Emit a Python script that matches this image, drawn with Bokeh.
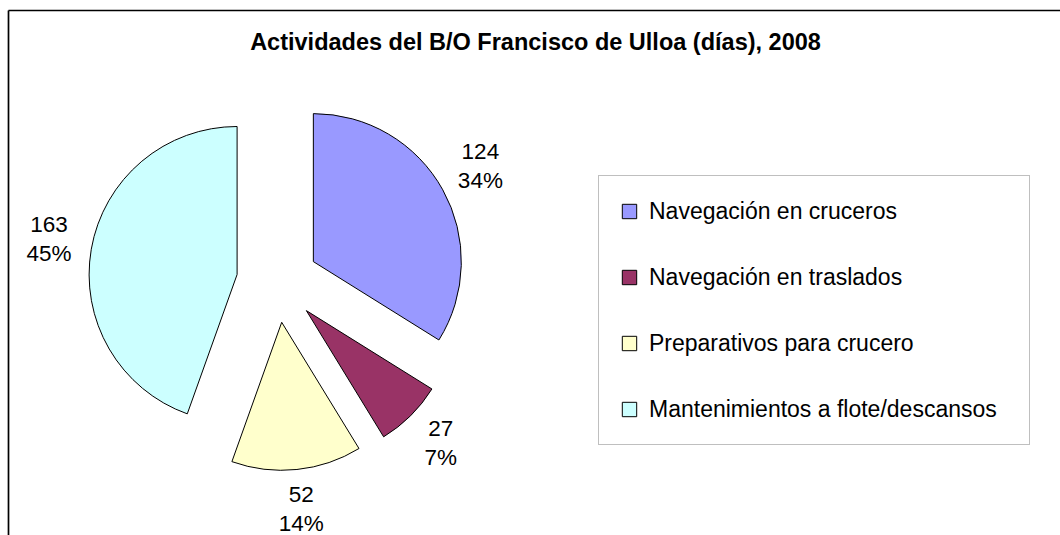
import numpy as np
from bokeh.plotting import figure
from bokeh.models import Range1d, ColumnDataSource, Legend, LegendItem
from bokeh.embed import file_html
from bokeh.resources import INLINE
from bokeh.core.properties import value

# ---- data ----
categories = ["Navegación en cruceros", "Navegación en traslados",
              "Preparativos para crucero", "Mantenimientos a flote/descansos"]
days = [124, 27, 52, 163]
colors = ["#9999FF", "#993366", "#FFFFCC", "#CCFFFF"]
title_text = "Actividades del B/O Francisco de Ulloa (días), 2008"

FONT = "Liberation Sans"
W, H = 1060, 535

p = figure(width=W, height=H, x_range=Range1d(0, W), y_range=Range1d(-H, 0),
           output_backend="svg", toolbar_location=None, min_border=0,
           x_axis_location=None, y_axis_location=None)
p.grid.visible = False
p.outline_line_color = None
p.background_fill_color = "white"
p.border_fill_color = "white"

# chart border (runs past the right and bottom of the page)
p.segment(x0=[8, 8], y0=[-10, -10], x1=[W, 8], y1=[-10, -H],
          line_color="black", line_width=1.7)

# ---- pie geometry ----
total = float(sum(days))
frac = np.array(days) / total
cum = np.concatenate([[0.0], np.cumsum(frac)])
start = np.pi / 2 - 2 * np.pi * cum[:-1]
end = np.pi / 2 - 2 * np.pi * cum[1:]
mid = (start + end) / 2

cx, cy = 277.0, -281.0
explode = 41.0
R = 148.0
xs = cx + explode * np.cos(mid)
ys = cy + explode * np.sin(mid)

src = ColumnDataSource(dict(x=xs, y=ys, start=start, end=end, color=colors,
                            cat=categories, days=days))
r = p.wedge(x="x", y="y", radius=R, start_angle="start", end_angle="end",
            direction="clock", fill_color="color", line_color="black",
            line_width=1, source=src)

# ---- data labels ----
LR = 232.0
lx = cx + LR * np.cos(mid)
ly = cy + LR * np.sin(mid)
pct = [f"{round(f * 100):.0f}%" for f in frac]
vals = [str(d) for d in days]
p.text(x=lx, y=ly + 17.5, text=vals, text_font=value(FONT), text_font_size="22.5px",
       text_align="center", text_baseline="alphabetic", text_color="black")
p.text(x=lx, y=ly - 11.5, text=pct, text_font=value(FONT), text_font_size="22.5px",
       text_align="center", text_baseline="alphabetic", text_color="black")

# ---- title ----
p.text(x=[535], y=[-41.5], text=[title_text], text_font=value(FONT),
       text_font_style="bold", text_font_size="23.5px", text_align="center",
       text_baseline="alphabetic", text_color="black")

# ---- legend ----
items = [LegendItem(label=c, renderers=[r], index=i) for i, c in enumerate(categories)]
legend = Legend(items=items, location=(598, 90), border_line_color="#808080",
                border_line_width=1, padding=21, spacing=38, glyph_width=18,
                glyph_height=18, label_standoff=11, label_width=359, label_height=28,
                label_text_font=FONT, label_text_font_size="23px",
                label_text_color="black", margin=0, background_fill_alpha=1.0)
p.add_layout(legend, "center")

open("out.html", "w").write(file_html(p, INLINE))
